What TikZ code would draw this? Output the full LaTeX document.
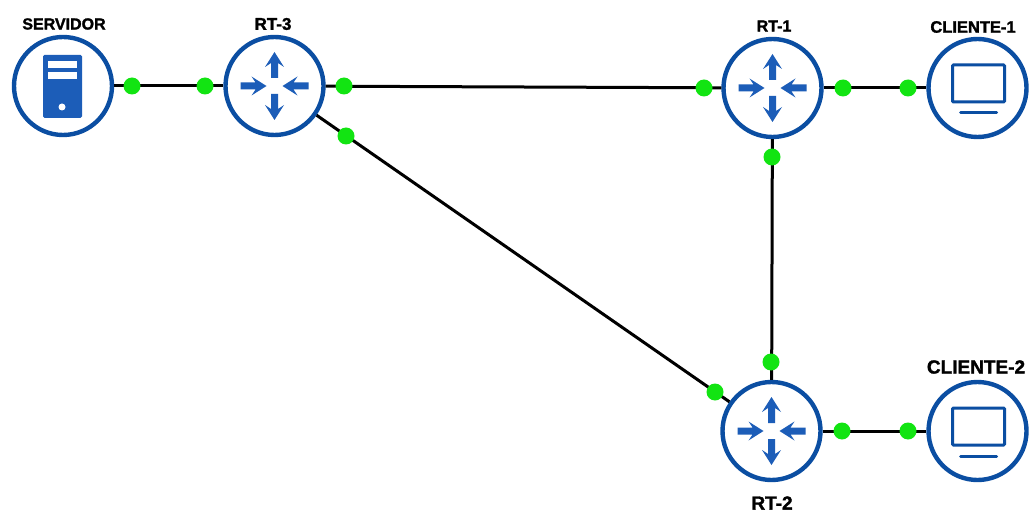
\documentclass[tikz,border=0pt]{standalone}
\usepackage{fontspec}
\setmainfont{Liberation Sans}[BoldFeatures={FakeBold=1.6}]

\definecolor{ringblue}{HTML}{0B4EA2}
\definecolor{iconblue}{HTML}{1C5DB8}
\definecolor{dotgreen}{HTML}{12E412}

\tikzset{
	device/.style={circle, draw=ringblue, line width=4.4pt, fill=white, minimum size=98pt, inner sep=0pt},
	link/.style={line width=3pt, black},
	dot/.style={circle, fill=dotgreen, minimum size=17pt, inner sep=0pt},
	tag/.style={inner sep=0pt},
	pics/routericon/.style={code={
		\foreach \a in {90,270}
			\fill[iconblue, rotate=\a] (8,-3.5) -- (23,-3.5) -- (19,-9.5) -- (34,0) -- (19,9.5) -- (23,3.5) -- (8,3.5) -- cycle;
		\foreach \a in {0,180}
			\fill[iconblue, rotate=\a] (34,-3.5) -- (19,-3.5) -- (23,-9.5) -- (8,0) -- (23,9.5) -- (19,3.5) -- (34,3.5) -- cycle;
	}},
	pics/servericon/.style={code={
		\fill[iconblue, rounded corners=1.5pt] (-20,-31) rectangle (19,32);
		\fill[white] (-15,-25) rectangle (14,-18);
		\fill[white] (-15,-14) rectangle (14,-7);
		\fill[white] (-1,21) circle (3.5);
	}},
	pics/screenicon/.style={code={
		\draw[ringblue, line width=3pt, rounded corners=1pt] (-25,-23) rectangle (27,14);
		\draw[ringblue, line width=3pt, line cap=round] (-17,25) -- (19,25);
	}}
}

\begin{document}
\begin{tikzpicture}[x=1pt, y=-1pt]
	\useasboundingbox (0,0) rectangle (1032,521);

	% Nodes
	\node[device] (servidor) at (63,86) {};
	\node[device] (rt3) at (274.5,86) {};
	\node[device] (rt1) at (772.5,88) {};
	\node[device] (cliente1) at (977.5,88) {};
	\node[device] (rt2) at (771.5,431) {};
	\node[device] (cliente2) at (977.5,431) {};

	% Icons
	\pic at (servidor) {servericon};
	\pic at (rt3) {routericon};
	\pic at (rt1) {routericon};
	\pic at (rt2) {routericon};
	\pic at (cliente1) {screenicon};
	\pic at (cliente2) {screenicon};

	% Labels
	\node[tag, font=\bfseries\fontsize{16}{16}\selectfont] (servidorlabel) at (64,24) {SERVIDOR};
	\node[tag, font=\bfseries\fontsize{17}{17}\selectfont] (rt3label) at (273,24) {RT-3};
	\node[tag, font=\bfseries\fontsize{16}{16}\selectfont] (rt1label) at (774,26) {RT-1};
	\node[tag, font=\bfseries\fontsize{16.5}{17}\selectfont] (cliente1label) at (973,27) {CLIENTE-1};
	\node[tag, font=\bfseries\fontsize{19}{19}\selectfont] (cliente2label) at (976,367) {CLIENTE-2};
	\node[tag, font=\bfseries\fontsize{19}{19}\selectfont] (rt2label) at (772,503) {RT-2};

	% Links
	\draw[link] (servidor) to (rt3);
	\draw[link] (rt3) to (rt1);
	\draw[link] (rt1) to (cliente1);
	\draw[link] (rt1) to (rt2);
	\draw[link] (rt3) to (rt2);
	\draw[link] (rt2) to (cliente2);

	% Green dots
	\node[dot] (p1) at (132,86) {};
	\node[dot] (p2) at (205,86) {};
	\node[dot] (p3) at (344,86) {};
	\node[dot] (p4) at (346,136) {};
	\node[dot] (p5) at (704,88) {};
	\node[dot] (p6) at (843,88) {};
	\node[dot] (p7) at (908,88) {};
	\node[dot] (p8) at (772,157) {};
	\node[dot] (p9) at (771,362) {};
	\node[dot] (p10) at (715,392) {};
	\node[dot] (p11) at (842,431) {};
	\node[dot] (p12) at (908,431) {};
\end{tikzpicture}
\end{document}
